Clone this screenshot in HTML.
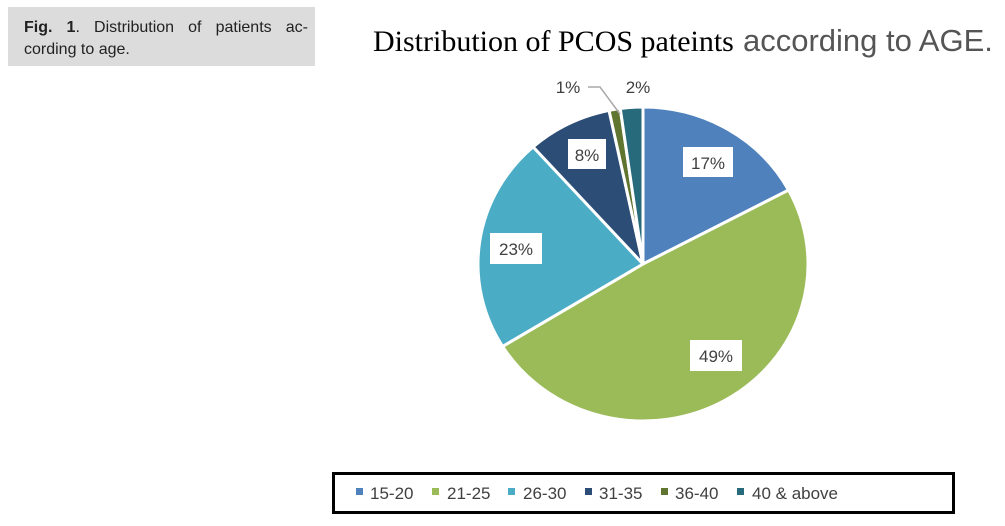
<!DOCTYPE html>
<html><head><meta charset="utf-8"><style>
body{margin:0;width:1005px;height:526px;background:#fff;position:relative;overflow:hidden;font-family:"Liberation Sans",sans-serif}
#cap{position:absolute;left:8px;top:7px;width:307px;height:59px;background:#dcdcdc}
#cap .l{position:absolute;left:16px;font-size:16px;color:#222;white-space:nowrap}
#l1{top:12px;width:284px;display:flex;justify-content:space-between}
#l2{top:34px}
#leg{position:absolute;left:332px;top:472px;width:617px;height:36px;border:3px solid #000;}
</style></head><body>
<div id="cap"><div class="l" id="l1"><span><b>Fig.</b></span><span><b>1</b>.</span><span>Distribution</span><span>of</span><span>patients</span><span>ac-</span></div><div class="l" id="l2">cording to age.</div></div>
<svg width="1005" height="526" style="position:absolute;left:0;top:0">
<text x="373" y="51" font-family="Liberation Serif,serif" font-size="30" fill="#000">Distribution of PCOS pateints<tspan x="743" font-family="Liberation Sans,sans-serif" font-size="31" fill="#555">according to AGE.</tspan></text>
<g id="pie"></g>
<polyline points="588,87 600,87 620,114" fill="none" stroke="#aaa" stroke-width="1.5"/>
<g font-size="17" fill="#404040" font-family="Liberation Sans,sans-serif">
<rect x="683" y="147" width="50" height="30" fill="#fff"/><text x="708" y="169" text-anchor="middle">17%</text>
<rect x="690" y="340" width="52" height="31" fill="#fff"/><text x="716" y="362" text-anchor="middle">49%</text>
<rect x="490" y="233" width="52" height="31" fill="#fff"/><text x="516" y="255" text-anchor="middle">23%</text>
<rect x="568" y="139" width="38" height="30" fill="#fff"/><text x="587" y="161" text-anchor="middle">8%</text>
<text x="568" y="93" text-anchor="middle">1%</text>
<text x="638" y="93" text-anchor="middle">2%</text>
</g>
<g font-size="17" fill="#404040" font-family="Liberation Sans,sans-serif">
<rect x="356" y="488" width="7" height="7" fill="#4f81bd"/><text x="370" y="499">15-20</text>
<rect x="432" y="488" width="7" height="7" fill="#9bbb59"/><text x="447" y="499">21-25</text>
<rect x="508" y="488" width="7" height="7" fill="#4bacc6"/><text x="523" y="499">26-30</text>
<rect x="585" y="488" width="7" height="7" fill="#2c4d75"/><text x="599" y="499">31-35</text>
<rect x="661" y="488" width="7" height="7" fill="#5f7530"/><text x="675" y="499">36-40</text>
<rect x="737" y="488" width="7" height="7" fill="#276a7c"/><text x="752" y="499">40 &amp; above</text>
</g>
</svg>
<div id="leg"></div>
<script>
var d=[[17.2,"#4f81bd"],[49,"#9bbb59"],[22.2,"#4bacc6"],[8.3,"#2c4d75"],[1.1,"#5f7530"],[2.2,"#276a7c"]];
var cx=643,cy=264,rx=165,ry=157,a=0,s="";
d.forEach(function(e){var a0=a/100*2*Math.PI,a1=(a+e[0])/100*2*Math.PI;a+=e[0];
var x0=cx+rx*Math.sin(a0),y0=cy-ry*Math.cos(a0),x1=cx+rx*Math.sin(a1),y1=cy-ry*Math.cos(a1);
s+='<path d="M'+cx+','+cy+'L'+x0+','+y0+'A'+rx+','+ry+' 0 '+(e[0]>50?1:0)+' 1 '+x1+','+y1+'Z" fill="'+e[1]+'" stroke="#fff" stroke-width="3" stroke-linejoin="round"/>';});
document.getElementById("pie").innerHTML=s;
</script>
</body></html>
